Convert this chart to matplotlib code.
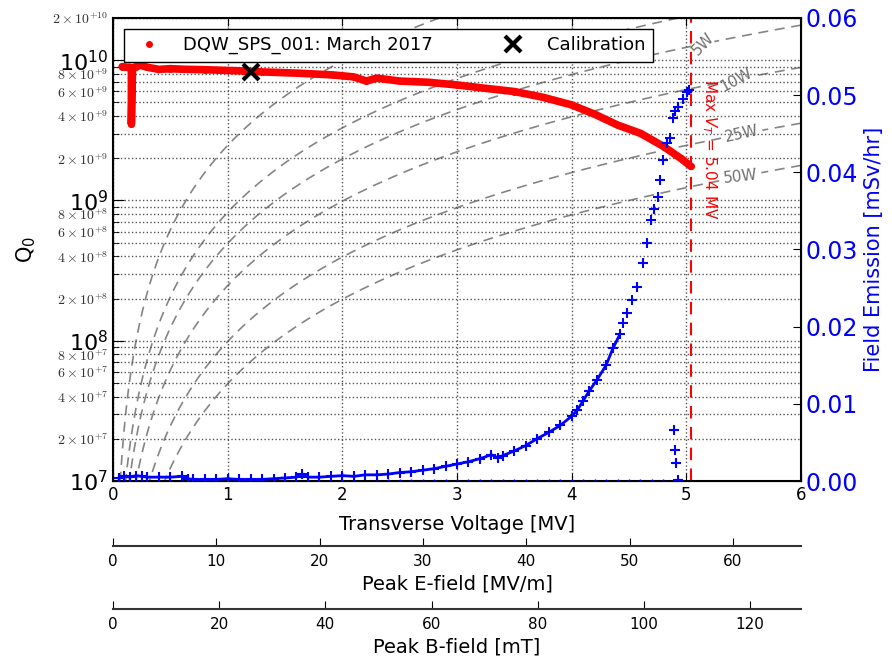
import numpy as np
import matplotlib
matplotlib.use("Agg")
import matplotlib.pyplot as plt
from matplotlib.ticker import LogLocator, FuncFormatter, FormatStrFormatter, MultipleLocator

plt.rcParams["font.family"] = ["DejaVu Sans"]
plt.rcParams["lines.dashed_pattern"] = [6, 4]

# Q0 measurement, DQW_SPS_001 March 2017  (V_T in MV, Q0)
q_volt = [0.08, 0.12, 0.15, 0.16, 0.16, 0.17, 0.20, 0.24, 0.30, 0.40, 0.50, 0.61,
          0.80, 1.00, 1.13, 1.30, 1.63, 1.92, 2.10, 2.21, 2.30, 2.50, 2.75, 3.00,
          3.25, 3.50, 3.75, 4.00, 4.20, 4.40, 4.60, 4.80, 4.95, 5.04]
q_vals = [9.0e9, 8.9e9, 8.9e9, 8.8e9, 3.5e9, 8.8e9, 9.0e9, 9.2e9, 8.9e9, 8.6e9, 8.7e9, 8.62e9,
          8.55e9, 8.45e9, 8.38e9, 8.25e9, 8.07e9, 7.85e9, 7.6e9, 7.1e9, 7.45e9, 7.1e9, 6.96e9, 6.66e9,
          6.3e9, 5.98e9, 5.44e9, 4.8e9, 4.12e9, 3.45e9, 3.01e9, 2.43e9, 2.0e9, 1.75e9]

calib_volt = [1.2]
calib_q = [8.3e9]

# field emission (mSv/hr): dense part up to ~4.4 MV, then sparse points
fe_volt = [0.05, 0.10, 0.15, 0.20, 0.25, 0.30, 0.40, 0.50, 0.60, 0.65, 0.70, 0.80, 0.90,
           1.00, 1.10, 1.20, 1.30, 1.40, 1.50, 1.60, 1.65, 1.70, 1.80, 1.90, 2.00, 2.10,
           2.20, 2.30, 2.40, 2.50, 2.60, 2.70, 2.80, 2.90, 3.00, 3.10, 3.20, 3.30, 3.36,
           3.40, 3.50, 3.60, 3.70, 3.80, 3.90, 4.00, 4.05, 4.10, 4.15, 4.22, 4.30, 4.36,
           4.42]
fe_vals = [0.0004, 0.0006, 0.0005, 0.0007, 0.0006, 0.0005, 0.0005, 0.0005, 0.0006, 0.0003,
           0.0002, 0.0002, 0.0002, 0.0003, 0.0002, 0.0002, 0.0002, 0.0003, 0.0004, 0.0005,
           0.0009, 0.0005, 0.0005, 0.0006, 0.0007, 0.0006, 0.0008, 0.0008, 0.0009, 0.0011,
           0.0012, 0.0014, 0.0016, 0.0019, 0.0022, 0.0025, 0.0029, 0.0034, 0.0030, 0.0033,
           0.0039, 0.0046, 0.0055, 0.0063, 0.0072, 0.0084, 0.0092, 0.0104, 0.0116, 0.0131,
           0.0150, 0.0172, 0.0190]
fe_high_volt = [4.45, 4.48, 4.53, 4.57, 4.62, 4.66, 4.69, 4.72, 4.75, 4.77, 4.80, 4.83,
                4.86, 4.88, 4.90, 4.93, 4.97, 5.01, 5.02]
fe_high_vals = [0.0205, 0.0218, 0.0235, 0.0252, 0.0282, 0.0308, 0.0338, 0.0352, 0.0368,
                0.0390, 0.0416, 0.0438, 0.0445, 0.0470, 0.0480, 0.0485, 0.0495, 0.0504,
                0.0507]
fe_drop_volt = [4.89, 4.90, 4.91, 4.93]
fe_drop_vals = [0.0066, 0.0040, 0.0023, 0.0001]
fe_zero_volt = [2.3, 2.4, 2.5, 2.6, 2.7, 2.8, 2.9, 3.0, 3.1, 3.2, 3.3, 3.4, 3.5, 3.6,
                3.7, 3.8, 3.9, 4.0, 4.1, 4.2, 4.3, 4.4, 4.5, 4.6, 4.7, 4.8, 4.9]
fe_zero_vals = [0.0] * len(fe_zero_volt)

# constant dissipated power lines
R_OVER_Q = 405.0          # ohm
unlabelled_levels = [1, 3]
labelled_levels = [5, 10, 25, 50]
label_pos = [(5.12, 1.32e10), (5.42, 7.4e9), (5.47, 3.27e9), (5.47, 1.48e9)]

V_MAX = 5.04
E_PER_MV = 11.1    # MV/m per MV
B_PER_MV = 21.6    # mT per MV
e_ticks = [0, 10, 20, 30, 40, 50, 60]
b_ticks = [0, 20, 40, 60, 80, 100, 120]

fig = plt.figure(figsize=(8.92, 6.63), dpi=100)
ax = fig.add_axes([0.1267, 0.2745, 0.7713, 0.6984])

vg = np.linspace(0.001, 6.0, 600)
qg = np.logspace(7, np.log10(2e10), 400)
VV, QQ = np.meshgrid(vg, qg)
PP = (VV * 1e6) ** 2 / (R_OVER_Q * QQ)
ax.contour(VV, QQ, PP, levels=unlabelled_levels, colors="#858585",
           linestyles="dashed", linewidths=1.2, zorder=1)
cs = ax.contour(VV, QQ, PP, levels=labelled_levels, colors="#858585",
                linestyles="dashed", linewidths=1.2, zorder=1)
lbls = ax.clabel(cs, fmt="%dW", fontsize=11, inline=True,
                 inline_spacing=4, manual=label_pos)
for t in lbls:
    t.set_color("#707070")

ax.plot(q_volt, q_vals, "-", color="red", lw=5.5, solid_capstyle="round", zorder=3)
ax.plot(q_volt, q_vals, "o", color="red", ms=5, mec="none", zorder=3,
        label="DQW_SPS_001: March 2017")
ax.plot(calib_volt, calib_q, "x", color="black", ms=12, mew=3, zorder=4,
        label="Calibration")

ax.axvline(V_MAX, color="red", ls="--", lw=1.5, zorder=2)
ax.text(V_MAX + 0.08, 2.3e9, r"Max $V_T$ = 5.04 MV", color="red", fontsize=11,
        rotation=270, ha="left", va="center")

ax.set_yscale("log")
ax.set_xlim(0, 6)
ax.set_ylim(1e7, 2e10)
ax.xaxis.set_major_locator(MultipleLocator(1))
ax.yaxis.set_minor_locator(LogLocator(base=10, subs=range(2, 10), numticks=20))


def minor_fmt(v, pos):
    e = int(np.floor(np.log10(v) + 1e-9))
    m = int(round(v / 10 ** e))
    if m in (2, 4, 6, 8):
        return r"$%d\times10^{+%d}$" % (m, e)
    return ""


ax.yaxis.set_minor_formatter(FuncFormatter(minor_fmt))
ax.tick_params(axis="y", which="major", labelsize=16, direction="in", length=8)
ax.tick_params(axis="y", which="minor", labelsize=10, labelcolor="#333333",
               direction="in", length=4)
ax.tick_params(axis="x", labelsize=12, direction="in", length=6, top=True)
ax.grid(True, which="both", axis="y", color="#555555", ls=":", lw=1)
ax.grid(True, which="major", axis="x", color="#555555", ls=":", lw=1)
for s in ax.spines.values():
    s.set_linewidth(1.5)
ax.set_xlabel("Transverse Voltage [MV]", fontsize=14, labelpad=8)
ax.set_ylabel(r"Q$_0$", fontsize=15, labelpad=10)

ax.legend(loc="upper left", ncol=2, fontsize=13, numpoints=1, fancybox=False,
          framealpha=1, edgecolor="black", columnspacing=3.4, handletextpad=0.9,
          borderaxespad=0.6).set_zorder(10)

ax2 = ax.twinx()
ax2.plot(fe_volt, fe_vals, "-", color="blue", lw=2, zorder=3)
ax2.plot(fe_volt, fe_vals, "+", color="blue", ms=7, mew=1.5, zorder=3)
ax2.plot(fe_high_volt, fe_high_vals, "+", color="blue", ms=7, mew=1.5, zorder=3)
ax2.plot(fe_drop_volt, fe_drop_vals, "+", color="blue", ms=7, mew=1.5)
ax2.plot(fe_zero_volt, fe_zero_vals, "+", color="blue", ms=3, mew=1)
ax2.set_ylim(0, 0.06)
ax2.yaxis.set_major_locator(MultipleLocator(0.01))
ax2.yaxis.set_major_formatter(FormatStrFormatter("%.2f"))
ax2.tick_params(axis="y", labelsize=17, labelcolor="blue", direction="in", length=6)
ax2.set_ylabel("Field Emission [mSv/hr]", color="blue", fontsize=15)

secE = ax.secondary_xaxis(-0.14, functions=(lambda v: v * E_PER_MV, lambda e: e / E_PER_MV))
secE.set_xticks(e_ticks)
secE.set_xlabel("Peak E-field [MV/m]", fontsize=14)
secE.tick_params(labelsize=11, direction="in", length=6, pad=6)
secE.spines["bottom"].set_linewidth(1.5)
secE.spines["bottom"].set_color("#333333")

secB = ax.secondary_xaxis(-0.276, functions=(lambda v: v * B_PER_MV, lambda b: b / B_PER_MV))
secB.set_xticks(b_ticks)
secB.set_xlabel("Peak B-field [mT]", fontsize=14)
secB.tick_params(labelsize=11, direction="in", length=6, pad=6)
secB.spines["bottom"].set_linewidth(1.5)
secB.spines["bottom"].set_color("#333333")

fig.canvas.draw()
for t in ax.yaxis.get_minorticklabels():
    t.set_math_fontfamily("cm")

fig.savefig("out.png", dpi=100)
